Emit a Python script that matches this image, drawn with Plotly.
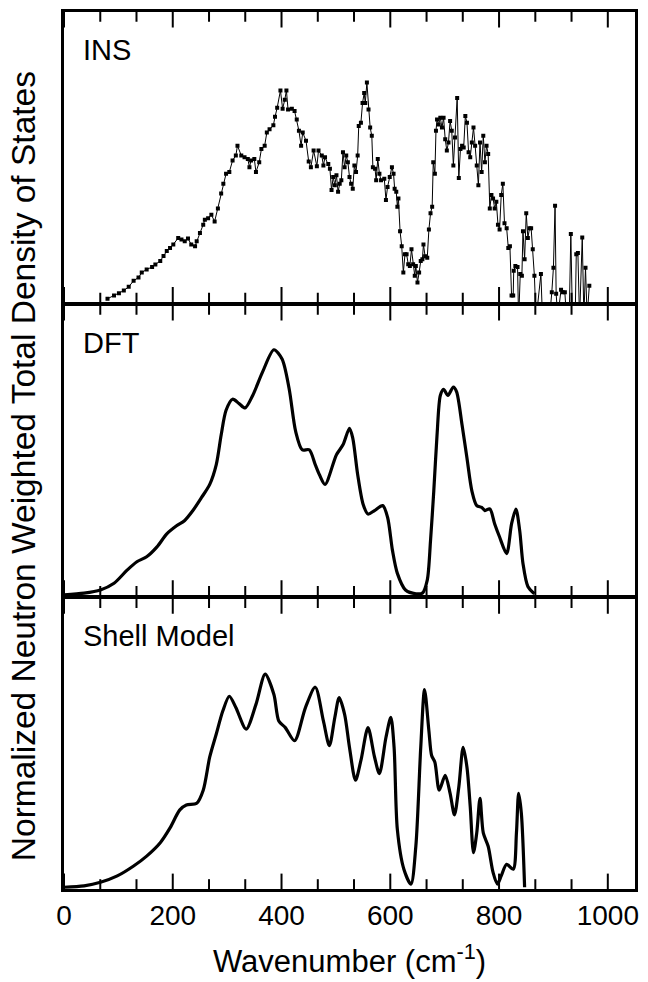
import plotly.graph_objects as go
from plotly.subplots import make_subplots

# Inelastic neutron scattering spectrum (wavenumber in cm^-1, normalized intensity)
ins_wavenumber = [
    80, 92, 101, 110, 119, 128, 137, 143, 152, 162, 168, 177, 183, 189, 195, 201,
    210, 216, 222, 228, 234, 241, 244, 250, 256, 259, 265, 271, 277, 283, 289, 293,
    298, 304, 310, 316, 319, 326, 332, 338, 341, 344, 350, 353, 359, 363, 369, 373,
    378, 385, 388, 392, 398, 402, 406, 409, 412, 419, 424, 428, 432, 436, 439, 445,
    450, 454, 459, 465, 468, 474, 477, 480, 486, 489, 492, 495, 498, 501, 504, 507,
    510, 513, 516, 519, 522, 525, 528, 531, 534, 537, 540, 542, 546, 549, 552, 554,
    557, 560, 563, 566, 568, 572, 574, 577, 580, 583, 589, 592, 595, 599, 603, 606,
    608, 611, 613, 615, 618, 621, 624, 627, 630, 633, 636, 639, 642, 645, 647, 650,
    653, 656, 659, 661, 664, 668, 671, 674, 677, 679, 682, 684, 686, 689, 692, 695,
    698, 701, 704, 707, 710, 713, 716, 719, 723, 726, 729, 732, 735, 738, 741, 744,
    747, 750, 753, 756, 759, 762, 765, 768, 771, 774, 777, 780, 783, 786, 789, 792,
    795, 798, 801, 804, 807, 810, 814, 817, 820, 823, 826, 827, 830, 834, 836, 839,
    842, 844, 847, 850, 853, 856, 859, 862, 865, 868, 877, 880, 893, 897, 900, 903,
    905, 908, 914, 917, 921, 924, 929, 932, 935, 940, 942, 945, 948, 953, 956, 959,
    962, 966,
]
ins_intensity = [
    0.013, 0.024, 0.032, 0.041, 0.054, 0.075, 0.086, 0.103, 0.114, 0.122, 0.131, 0.143, 0.160, 0.177, 0.188, 0.200,
    0.222, 0.217, 0.211, 0.220, 0.200, 0.194, 0.211, 0.239, 0.268, 0.285, 0.290, 0.302, 0.279, 0.324, 0.375, 0.409,
    0.443, 0.449, 0.489, 0.506, 0.540, 0.506, 0.500, 0.494, 0.466, 0.489, 0.494, 0.449, 0.483, 0.528, 0.540, 0.585,
    0.596, 0.610, 0.639, 0.670, 0.730, 0.667, 0.698, 0.730, 0.664, 0.667, 0.659, 0.630, 0.591, 0.540, 0.585, 0.557,
    0.485, 0.466, 0.523, 0.469, 0.523, 0.506, 0.472, 0.500, 0.477, 0.460, 0.387, 0.432, 0.404, 0.438, 0.381, 0.409,
    0.421, 0.517, 0.466, 0.506, 0.483, 0.432, 0.409, 0.392, 0.472, 0.449, 0.506, 0.608, 0.619, 0.687, 0.721, 0.687,
    0.757, 0.664, 0.602, 0.574, 0.466, 0.460, 0.421, 0.494, 0.443, 0.421, 0.426, 0.353, 0.398, 0.432, 0.466, 0.443,
    0.392, 0.381, 0.330, 0.358, 0.245, 0.194, 0.103, 0.166, 0.166, 0.132, 0.126, 0.183, 0.132, 0.092, 0.126, 0.069,
    0.103, 0.143, 0.149, 0.200, 0.159, 0.154, 0.251, 0.307, 0.330, 0.483, 0.443, 0.591, 0.630, 0.613, 0.636, 0.602,
    0.636, 0.562, 0.523, 0.551, 0.625, 0.591, 0.472, 0.568, 0.704, 0.429, 0.528, 0.540, 0.534, 0.642, 0.619, 0.517,
    0.500, 0.551, 0.602, 0.540, 0.472, 0.404, 0.551, 0.449, 0.574, 0.483, 0.540, 0.511, 0.324, 0.370, 0.358, 0.324,
    0.347, 0.268, 0.251, 0.370, 0.409, 0.273, 0.256, 0.188, 0.194, 0.024, 0.024, 0.109, 0.126, 0.122, -0.060, 0.098,
    0.092, 0.245, 0.149, 0.307, 0.222, 0.256, 0.256, 0.183, 0.092, -0.060, 0.098, -0.060, -0.050, 0.035, 0.120, 0.333,
    0.030, -0.050, 0.044, 0.035, 0.035, -0.050, -0.050, 0.236, -0.060, -0.050, 0.166, 0.170, -0.060, 0.224, -0.050, 0.120,
    -0.050, 0.058,
]

# DFT phonon density of states
dft_wavenumber = [
    0, 37, 67, 92, 116, 134, 152, 171, 189, 207, 222, 237, 253, 268, 280, 289,
    298, 310, 322, 333, 347, 365, 386, 401, 414, 426, 438, 451, 462, 470, 480, 501,
    513, 525, 531, 540, 550, 559, 571, 586, 595, 604, 613, 628, 647, 659, 668, 674,
    680, 686, 692, 698, 706, 716, 722, 732, 741, 750, 759, 768, 774, 783, 792, 801,
    814, 823, 831, 838, 844, 853, 865,
]
dft_dos = [
    0.003, 0.009, 0.020, 0.043, 0.088, 0.117, 0.134, 0.168, 0.213, 0.241, 0.259, 0.293, 0.338, 0.383, 0.451, 0.553,
    0.638, 0.676, 0.661, 0.646, 0.689, 0.769, 0.846, 0.814, 0.712, 0.565, 0.502, 0.502, 0.451, 0.415, 0.383, 0.485,
    0.519, 0.576, 0.542, 0.417, 0.315, 0.281, 0.293, 0.310, 0.270, 0.156, 0.077, 0.020, 0.007, 0.009, 0.054, 0.190,
    0.361, 0.553, 0.689, 0.710, 0.689, 0.718, 0.701, 0.587, 0.474, 0.361, 0.310, 0.304, 0.293, 0.299, 0.247, 0.202,
    0.145, 0.247, 0.298, 0.224, 0.111, 0.032, 0.007,
]

# Shell-model phonon density of states
shell_wavenumber = [
    0, 37, 67, 98, 128, 152, 177, 195, 213, 225, 244, 256, 268, 280, 292, 304,
    316, 335, 353, 370, 386, 395, 407, 424, 444, 462, 477, 488, 498, 506, 516, 525,
    536, 546, 559, 571, 580, 592, 601, 607, 613, 625, 638, 647, 656, 663, 671, 676,
    682, 690, 701, 710, 718, 726, 734, 741, 747, 753, 759, 765, 771, 780, 789, 797,
    804, 814, 826, 832, 836, 841, 847,
]
shell_dos = [
    0.006, 0.011, 0.023, 0.045, 0.079, 0.113, 0.159, 0.210, 0.272, 0.289, 0.295, 0.340, 0.454, 0.533, 0.612, 0.663,
    0.624, 0.550, 0.635, 0.739, 0.669, 0.578, 0.555, 0.510, 0.624, 0.694, 0.578, 0.493, 0.590, 0.658, 0.601, 0.487,
    0.374, 0.442, 0.555, 0.454, 0.397, 0.521, 0.590, 0.487, 0.204, 0.068, 0.017, 0.147, 0.487, 0.686, 0.544, 0.459,
    0.436, 0.340, 0.391, 0.329, 0.255, 0.351, 0.487, 0.419, 0.283, 0.125, 0.193, 0.312, 0.193, 0.147, 0.057, 0.017,
    0.045, 0.085, 0.068, 0.193, 0.329, 0.261, 0.006,
]

panel_labels = ["INS", "DFT", "Shell Model"]
major_ticks = [0, 200, 400, 600, 800, 1000]
minor_ticks = [66.7, 133.3, 266.7, 333.3, 466.7, 533.3, 666.7, 733.3, 866.7, 933.3]

FONT = "Liberation Sans, Arial, Helvetica, sans-serif"
X_MAX = 1050

fig = make_subplots(rows=3, cols=1, shared_xaxes=True, vertical_spacing=0)

fig.add_trace(go.Scatter(
    x=ins_wavenumber, y=ins_intensity, mode="lines+markers",
    line=dict(color="black", width=1),
    marker=dict(symbol="square", size=4, color="black"),
), row=1, col=1)

fig.add_trace(go.Scatter(
    x=dft_wavenumber, y=dft_dos, mode="lines",
    line=dict(color="black", width=3.2, shape="spline", smoothing=0.8),
), row=2, col=1)

fig.add_trace(go.Scatter(
    x=shell_wavenumber, y=shell_dos, mode="lines",
    line=dict(color="black", width=3.2, shape="spline", smoothing=0.8),
), row=3, col=1)

# Tick marks as vertical-line markers sitting on the top and bottom edge of each panel;
# the half that would fall outside a panel is clipped away by the plot area.
for r in (1, 2, 3):
    for vals, size in ((major_ticks, 22), (minor_ticks, 14)):
        fig.add_trace(go.Scatter(
            x=vals + vals, y=[0] * len(vals) + [1] * len(vals),
            mode="markers", hoverinfo="skip", cliponaxis=True,
            marker=dict(symbol="line-ns", size=size,
                        line=dict(color="black", width=2)),
        ), row=r, col=1)

for r in (1, 2, 3):
    fig.update_xaxes(
        range=[0, X_MAX], tickmode="array", tickvals=major_ticks, ticks="",
        showline=True, linewidth=2.5, linecolor="black", mirror=True,
        showgrid=False, zeroline=False,
        tickfont=dict(family=FONT, size=28, color="black"),
        row=r, col=1,
    )
    fig.update_yaxes(
        range=[0, 1], showticklabels=False, ticks="",
        showline=True, linewidth=2.5, linecolor="black", mirror=True,
        showgrid=False, zeroline=False,
        row=r, col=1,
    )

# Panel rows overlap by one frame-line width so shared borders are single lines
fig.update_layout(
    yaxis=dict(domain=[0.66875, 1.0]),
    yaxis2=dict(domain=[0.33437, 0.66591]),
    yaxis3=dict(domain=[0.0, 0.33153]),
)

annotations = []
for i, label in enumerate(panel_labels):
    suffix = "" if i == 0 else str(i + 1)
    annotations.append(dict(
        text=label, xref=f"x{suffix} domain", yref=f"y{suffix} domain",
        x=0.03, y=0.87, xanchor="left", yanchor="middle", showarrow=False,
        font=dict(family=FONT, size=29, color="black"),
    ))

annotations.append(dict(
    text="Normalized Neutron Weighted Total Density of States",
    xref="paper", yref="paper", x=-0.072, y=0.482, textangle=-90,
    xanchor="center", yanchor="middle", showarrow=False,
    font=dict(family=FONT, size=33.5, color="black"),
))
annotations.append(dict(
    text="Wavenumber (cm<sup>-1</sup>)",
    xref="paper", yref="paper", x=0.5, y=-0.080,
    xanchor="center", yanchor="middle", showarrow=False,
    font=dict(family=FONT, size=31, color="black"),
))

fig.update_layout(
    width=648, height=982,
    margin=dict(l=64, r=9.25, t=9.5, b=93.25),
    paper_bgcolor="white", plot_bgcolor="white",
    showlegend=False,
    annotations=annotations,
)

fig.write_html("out.html")
